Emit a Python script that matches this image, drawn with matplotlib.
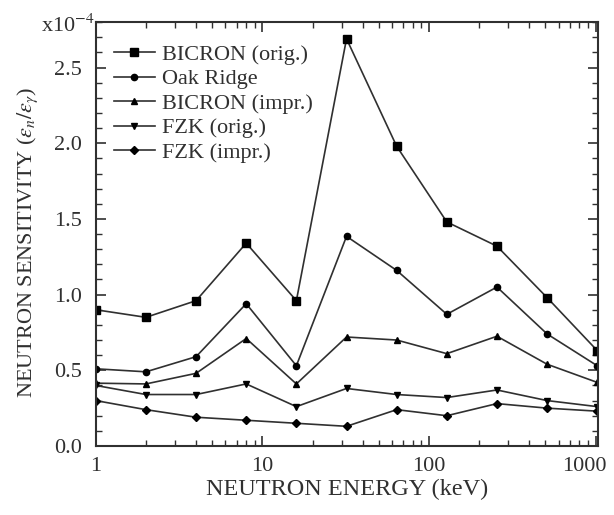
import numpy as np
import matplotlib.pyplot as plt
from matplotlib.ticker import MultipleLocator, LogLocator, NullFormatter, FixedLocator, FixedFormatter
from matplotlib.transforms import ScaledTranslation

plt.rcParams['font.family'] = ['Liberation Serif', 'DejaVu Serif']
plt.rcParams['mathtext.fontset'] = 'stix'

energy = [1, 2, 4, 8, 16, 32, 64, 128, 256, 512, 1024]

# values in units of 1e-4
bicron_orig = [0.90, 0.85, 0.96, 1.34, 0.96, 2.69, 1.98, 1.48, 1.32, 0.98, 0.63]
oak_ridge = [0.51, 0.49, 0.59, 0.94, 0.53, 1.385, 1.16, 0.87, 1.05, 0.74, 0.53]
bicron_impr = [0.415, 0.41, 0.48, 0.71, 0.41, 0.72, 0.70, 0.61, 0.725, 0.54, 0.42]
fzk_orig = [0.40, 0.34, 0.34, 0.41, 0.26, 0.38, 0.34, 0.32, 0.37, 0.30, 0.26]
fzk_impr = [0.30, 0.24, 0.19, 0.17, 0.15, 0.13, 0.24, 0.20, 0.28, 0.25, 0.23]

labels = ['BICRON (orig.)', 'Oak Ridge', 'BICRON (impr.)', 'FZK (orig.)', 'FZK (impr.)']
markers = ['s', 'o', '^', 'v', 'D']
msizes = [5.5, 4.5, 5, 5, 4]
series = [bicron_orig, oak_ridge, bicron_impr, fzk_orig, fzk_impr]

ink = '#303030'

fig = plt.figure(figsize=(6.14, 5.15), dpi=100)
ax = fig.add_axes([0.156, 0.134, 0.818, 0.823])

for y, lab, m, ms in zip(series, labels, markers, msizes):
    ax.plot(energy, y, color=ink, lw=1.2, marker=m, ms=ms, mfc='black', mec='black', label=lab)

ax.set_xscale('log')
ax.set_xlim(1, 1035)
ax.set_ylim(0, 2.8)

ax.xaxis.set_major_locator(FixedLocator([1, 10, 100, 1000]))
ax.xaxis.set_major_formatter(FixedFormatter(['1', '10', '100', '1000']))
ax.xaxis.set_minor_locator(LogLocator(base=10, subs=np.arange(2, 10)))
ax.xaxis.set_minor_formatter(NullFormatter())
ax.yaxis.set_major_locator(MultipleLocator(0.5))
ax.yaxis.set_minor_locator(MultipleLocator(0.1))
ax.yaxis.set_major_formatter(plt.FuncFormatter(lambda v, p: '%.1f' % v))

ax.tick_params(which='both', direction='in', top=True, right=True, colors=ink, labelsize=16)
ax.tick_params(which='major', length=7, width=1.2)
ax.tick_params(which='minor', length=4, width=1)
ax.tick_params(axis='x', pad=8)
ax.tick_params(axis='y', pad=10)
for s in ax.spines.values():
    s.set_color(ink)
    s.set_linewidth(1.5)

# nudge the last x label inward so it stays inside the figure
fig.canvas.draw()
last = ax.get_xticklabels()[-1]
last.set_transform(last.get_transform() + ScaledTranslation(-8 / 72, 0, fig.dpi_scale_trans))

ax.set_xlabel('NEUTRON ENERGY (keV)', fontsize=17.5, color=ink, labelpad=2)
ax.set_ylabel(r'NEUTRON SENSITIVITY ($\varepsilon_n/\varepsilon_\gamma$)', fontsize=16,
              color=ink)
ax.yaxis.set_label_coords(-0.112, 0.48)
ax.text(-0.002, 0.976, r'x10$^{-4}$', transform=ax.transAxes, fontsize=16, color=ink,
        ha='right', va='baseline')

leg = ax.legend(loc='upper left', frameon=False, fontsize=16, handlelength=1.85,
                handletextpad=0.3, labelspacing=0.18, borderaxespad=0, borderpad=0,
                bbox_to_anchor=(0.036, 0.948))
for t in leg.get_texts():
    t.set_color(ink)

fig.savefig('out.png', dpi=100)
